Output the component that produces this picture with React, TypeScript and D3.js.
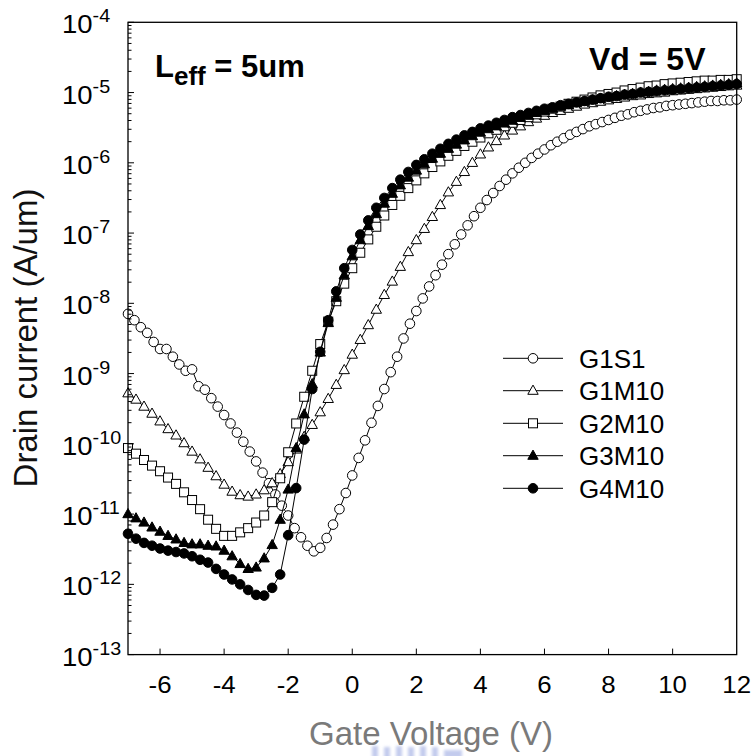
import React from "react";
import * as d3 from "d3";

// Gate voltage sweeps (V)
const VG_FINE = [
  -7, -6.8, -6.6, -6.4, -6.2, -6, -5.8, -5.6, -5.4, -5.2, -5, -4.8, -4.6, -4.4, -4.2, -4,
  -3.8, -3.6, -3.4, -3.2, -3, -2.8, -2.6, -2.4, -2.2, -2, -1.8, -1.6, -1.4, -1.2, -1,
  -0.8, -0.6, -0.4, -0.2, 0, 0.2, 0.4, 0.6, 0.8, 1, 1.2, 1.4, 1.6, 1.8, 2, 2.2, 2.4, 2.6,
  2.8, 3, 3.2, 3.4, 3.6, 3.8, 4, 4.2, 4.4, 4.6, 4.8, 5, 5.2, 5.4, 5.6, 5.8, 6, 6.2, 6.4,
  6.6, 6.8, 7, 7.2, 7.4, 7.6, 7.8, 8, 8.2, 8.4, 8.6, 8.8, 9, 9.2, 9.4, 9.6, 9.8, 10,
  10.2, 10.4, 10.6, 10.8, 11, 11.2, 11.4, 11.6, 11.8, 12,
];
const VG_COARSE = [
  -7, -6.75, -6.5, -6.25, -6, -5.75, -5.5, -5.25, -5, -4.75, -4.5, -4.25, -4, -3.75,
  -3.5, -3.25, -3, -2.75, -2.5, -2.25, -2, -1.75, -1.5, -1.25, -1, -0.75, -0.5, -0.25,
  0, 0.25, 0.5, 0.75, 1, 1.25, 1.5, 1.75, 2, 2.25, 2.5, 2.75, 3, 3.25, 3.5, 3.75, 4,
  4.25, 4.5, 4.75, 5, 5.25, 5.5, 5.75, 6, 6.25, 6.5, 6.75, 7, 7.25, 7.5, 7.75, 8, 8.25,
  8.5, 8.75, 9, 9.25, 9.5, 9.75, 10, 10.25, 10.5, 10.75, 11, 11.25, 11.5, 11.75, 12,
];

// log10 of drain current (A/um)
const G1S1_LOG = [
  -8.15, -8.24, -8.34, -8.42, -8.55, -8.65, -8.65, -8.76, -8.87, -8.96,
  -8.94, -9.18, -9.23, -9.35, -9.47, -9.59, -9.71, -9.84, -9.97, -10.11,
  -10.25, -10.41, -10.56, -10.72, -10.88, -11.02, -11.2, -11.33, -11.45, -11.53,
  -11.48, -11.34, -11.15, -10.93, -10.7, -10.45, -10.2, -9.95, -9.7, -9.46,
  -9.22, -8.98, -8.76, -8.5, -8.29, -8.11, -7.93, -7.76, -7.6, -7.45,
  -7.3, -7.16, -7.02, -6.89, -6.76, -6.64, -6.53, -6.43, -6.33, -6.24,
  -6.15, -6.07, -6.0, -5.93, -5.87, -5.81, -5.75, -5.7, -5.65, -5.6,
  -5.56, -5.52, -5.48, -5.45, -5.42, -5.39, -5.36, -5.33, -5.31, -5.28,
  -5.26, -5.24, -5.22, -5.21, -5.19, -5.18, -5.17, -5.16, -5.15, -5.14,
  -5.13, -5.12, -5.12, -5.11, -5.11, -5.1,
];
const G1M10_LOG = [
  -9.28, -9.37, -9.47, -9.57, -9.68, -9.79, -9.88, -9.99, -10.11, -10.22,
  -10.34, -10.46, -10.58, -10.68, -10.73, -10.75, -10.72, -10.66, -10.56, -10.43,
  -10.26, -10.08, -9.9, -9.73, -9.55, -9.36, -9.16, -8.95, -8.73, -8.52,
  -8.31, -8.09, -7.88, -7.69, -7.48, -7.27, -7.1, -6.94, -6.77, -6.6,
  -6.42, -6.27, -6.13, -6.0, -5.88, -5.78, -5.69, -5.61, -5.54, -5.48,
  -5.42, -5.37, -5.33, -5.29, -5.26, -5.23, -5.2, -5.17, -5.15, -5.13,
  -5.11, -5.09, -5.07, -5.05, -5.04, -5.02, -5.01, -5.0, -4.98, -4.97,
  -4.96, -4.95, -4.94, -4.93, -4.92, -4.91, -4.9,
];
const G2M10_LOG = [
  -10.06, -10.14, -10.23, -10.31, -10.39, -10.48, -10.57, -10.69, -10.8, -10.93,
  -11.08, -11.21, -11.31, -11.31, -11.26, -11.2, -11.12, -11.02, -10.83, -10.49,
  -10.12, -9.71, -9.33, -8.96, -8.58, -8.26, -7.97, -7.72, -7.5, -7.28,
  -7.09, -6.91, -6.75, -6.6, -6.47, -6.36, -6.25, -6.15, -6.06, -5.98,
  -5.9, -5.83, -5.76, -5.7, -5.64, -5.58, -5.53, -5.48, -5.43, -5.39,
  -5.35, -5.31, -5.27, -5.23, -5.2, -5.16, -5.13, -5.1, -5.07, -5.04,
  -5.02, -5.0, -4.97, -4.95, -4.93, -4.91, -4.9, -4.88, -4.87, -4.86,
  -4.85, -4.84, -4.83, -4.83, -4.82, -4.82, -4.81,
];
const G3M10_LOG = [
  -11.0, -11.06, -11.12, -11.19, -11.25, -11.31, -11.36, -11.41, -11.43, -11.43,
  -11.45, -11.46, -11.52, -11.6, -11.71, -11.78, -11.76, -11.63, -11.44, -11.08,
  -10.65, -10.06, -9.58, -9.15, -8.7, -8.28, -7.92, -7.6, -7.33, -7.1,
  -6.9, -6.73, -6.58, -6.44, -6.32, -6.21, -6.11, -6.02, -5.94, -5.87,
  -5.8, -5.74, -5.68, -5.62, -5.57, -5.52, -5.48, -5.44, -5.4, -5.36,
  -5.33, -5.29, -5.26, -5.23, -5.2, -5.18, -5.15, -5.13, -5.11, -5.09,
  -5.07, -5.05, -5.03, -5.02, -5.0, -4.99, -4.97, -4.96, -4.95, -4.94,
  -4.93, -4.92, -4.91, -4.9, -4.89, -4.88, -4.87,
];
const G4M10_LOG = [
  -11.28, -11.35, -11.41, -11.45, -11.49, -11.52, -11.54, -11.56, -11.6, -11.65,
  -11.69, -11.78, -11.86, -11.93, -12.0, -12.08, -12.15, -12.16, -12.05, -11.86,
  -11.3, -10.63, -9.94, -9.22, -8.69, -8.24, -7.83, -7.5, -7.24, -7.02,
  -6.82, -6.64, -6.5, -6.36, -6.24, -6.13, -6.03, -5.95, -5.87, -5.8,
  -5.73, -5.67, -5.61, -5.56, -5.51, -5.47, -5.43, -5.39, -5.35, -5.32,
  -5.29, -5.26, -5.23, -5.21, -5.18, -5.16, -5.14, -5.12, -5.1, -5.08,
  -5.06, -5.05, -5.03, -5.02, -5.0, -4.99, -4.98, -4.97, -4.96, -4.95,
  -4.94, -4.93, -4.92, -4.91, -4.9, -4.89, -4.88,
];

const SERIES_NAMES = ["G1S1", "G1M10", "G2M10", "G3M10", "G4M10"];
const SERIES_VG = [VG_FINE, VG_COARSE, VG_COARSE, VG_COARSE, VG_COARSE];
const SERIES_LOG = [G1S1_LOG, G1M10_LOG, G2M10_LOG, G3M10_LOG, G4M10_LOG];
const SERIES_MARKER = ["circle", "triangle", "square", "triangle", "circle"];
const SERIES_FILLED = [false, false, false, true, true];

const X_TICKS = [-6, -4, -2, 0, 2, 4, 6, 8, 10, 12];
const Y_DECADES = [-13, -12, -11, -10, -9, -8, -7, -6, -5, -4];

const FONT = "'Liberation Sans', Arial, Helvetica, sans-serif";

function Marker({ kind, filled, cx, cy }: { kind: string; filled: boolean; cx: number; cy: number }) {
  const fill = filled ? "#000" : "#fff";
  const common = { fill, stroke: "#000", strokeWidth: 1 };
  if (kind === "circle") return <circle cx={cx} cy={cy} r={4.8} {...common} />;
  if (kind === "square")
    return <rect x={cx - 4.5} y={cy - 4.5} width={9} height={9} {...common} />;
  const pts = `${cx},${cy - 5.6} ${cx + 5.2},${cy + 3.6} ${cx - 5.2},${cy + 3.6}`;
  return <polygon points={pts} {...common} />;
}

export default function App() {
  const W = 754;
  const H = 756;
  const left = 128;
  const right = 736.7;
  const top = 22.3;
  const bottom = 654.6;

  const x = d3.scaleLinear().domain([-7, 12]).range([left, right]);
  const y = d3.scaleLog().domain([1e-13, 1e-4]).range([bottom, top]);

  const line = d3
    .line<[number, number]>()
    .x((d) => x(d[0]))
    .y((d) => y(Math.pow(10, d[1])));

  const minorTicks: number[] = [];
  Y_DECADES.slice(0, -1).forEach((k) => {
    for (let m = 2; m <= 9; m++) minorTicks.push(m * Math.pow(10, k));
  });

  const legendRows = [358.3, 390.7, 423.3, 455.7, 488.3];

  return (
    <svg
      width={W}
      height={H}
      viewBox={`0 0 ${W} ${H}`}
      style={{ position: "absolute", left: 0, top: 0, background: "#fff" }}
      fontFamily={FONT}
    >
      <rect x={0} y={0} width={W} height={H} fill="#fff" />

      {/* faint logo mark under the x title */}
      <defs>
        <filter id="soft" x="-20%" y="-20%" width="140%" height="140%">
          <feGaussianBlur stdDeviation="1.6" />
        </filter>
      </defs>
      <g filter="url(#soft)" fill="#b9c3ea" opacity={0.85}>
        {[372, 384, 396, 408, 420, 432].map((bx, i) => (
          <rect key={i} x={bx} y={746 + (i % 2)} width={6} height={12} />
        ))}
        <rect x={444} y={750} width={18} height={8} />
      </g>

      {/* series */}
      {SERIES_NAMES.map((name, si) => {
        const pts: [number, number][] = SERIES_VG[si].map((v, i) => [v, SERIES_LOG[si][i]]);
        return (
          <g key={name}>
            <path d={line(pts) || ""} fill="none" stroke="#000" strokeWidth={1} />
            {pts.map((p, i) => (
              <Marker
                key={i}
                kind={SERIES_MARKER[si]}
                filled={SERIES_FILLED[si]}
                cx={x(p[0])}
                cy={y(Math.pow(10, p[1]))}
              />
            ))}
          </g>
        );
      })}

      {/* frame */}
      <rect
        x={left}
        y={top}
        width={right - left}
        height={bottom - top}
        fill="none"
        stroke="#000"
        strokeWidth={1.3}
      />

      {/* y ticks */}
      {Y_DECADES.map((k) => (
        <line key={k} x1={left} x2={left + 6} y1={y(Math.pow(10, k))} y2={y(Math.pow(10, k))} stroke="#000" strokeWidth={1} />
      ))}
      {minorTicks.map((v, i) => (
        <line key={i} x1={left} x2={left + 3.5} y1={y(v)} y2={y(v)} stroke="#000" strokeWidth={1} />
      ))}
      {Y_DECADES.map((k) => (
        <text key={k} transform={`translate(62,${y(Math.pow(10, k)) + 11}) scale(1.1,1)`} fontSize={25} fill="#000">
          10
          <tspan fontSize={18} dy={-11}>
            {String(k)}
          </tspan>
        </text>
      ))}

      {/* x ticks */}
      {X_TICKS.filter((t) => t < 12).map((t) => (
        <line key={t} x1={x(t)} x2={x(t)} y1={bottom} y2={bottom - 6} stroke="#000" strokeWidth={1} />
      ))}
      {X_TICKS.map((t) => (
        <text
          key={t}
          transform={`translate(${x(t)},692.7) scale(1.1,1)`}
          fontSize={23.5}
          textAnchor="middle"
          fill="#000"
        >
          {String(t)}
        </text>
      ))}

      {/* axis titles */}
      <text x={431} y={745} fontSize={33} textAnchor="middle" fill="#7a7a7a">
        Gate Voltage (V)
      </text>
      <text transform="translate(37,338) rotate(-90)" fontSize={33} textAnchor="middle" fill="#111">
        Drain current (A/um)
      </text>

      {/* annotations */}
      <text x={155} y={77.3} fontSize={31} fontWeight="bold" fill="#000">
        L
        <tspan fontSize={26} dy={8}>
          eff
        </tspan>
        <tspan dy={-8}> = 5um</tspan>
      </text>
      <text x={589} y={70} fontSize={32} fontWeight="bold" fill="#000">
        Vd = 5V
      </text>

      {/* legend */}
      {SERIES_NAMES.map((name, si) => (
        <g key={name}>
          <line x1={503} x2={563} y1={legendRows[si]} y2={legendRows[si]} stroke="#000" strokeWidth={1} />
          <Marker kind={SERIES_MARKER[si]} filled={SERIES_FILLED[si]} cx={533} cy={legendRows[si]} />
          <text x={579} y={legendRows[si] + 9.5} fontSize={26} fill="#000">
            {name}
          </text>
        </g>
      ))}
    </svg>
  );
}
